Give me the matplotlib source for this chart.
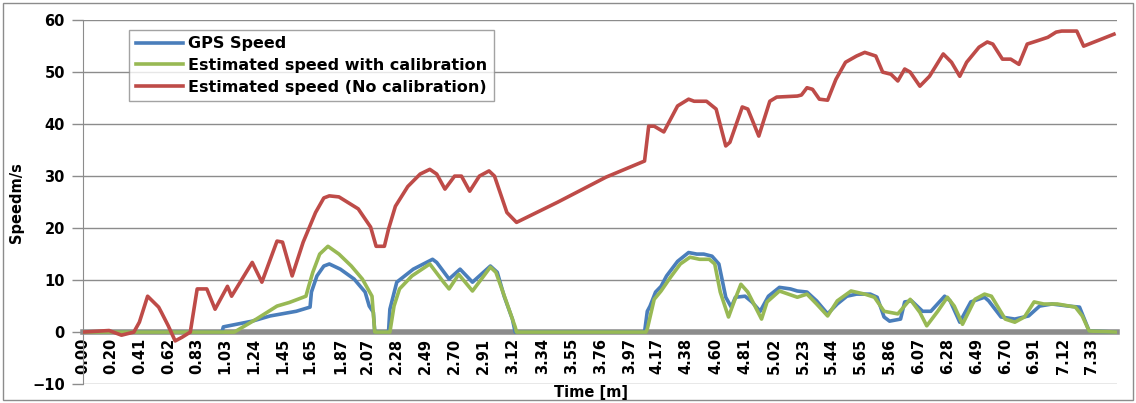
import numpy as np
import matplotlib
matplotlib.use("Agg")
import matplotlib.pyplot as plt
from matplotlib.patches import Rectangle

# time [min] / speed [m/s]
red_t = [0.00, 0.19, 0.28, 0.37, 0.41, 0.47, 0.55, 0.57, 0.62, 0.67, 0.72, 0.78,
         0.83, 0.90, 0.96, 1.05, 1.08, 1.23, 1.30, 1.41, 1.45, 1.52, 1.60, 1.69,
         1.75, 1.79, 1.86, 2.00, 2.09, 2.13, 2.19, 2.22, 2.27, 2.36, 2.45, 2.52,
         2.57, 2.63, 2.70, 2.75, 2.81, 2.88, 2.95, 2.99, 3.08, 3.15, 3.45, 3.80,
         4.08, 4.11, 4.15, 4.22, 4.32, 4.40, 4.44, 4.53, 4.60, 4.67, 4.70, 4.79,
         4.83, 4.91, 4.99, 5.04, 5.19, 5.22, 5.26, 5.30, 5.35, 5.41, 5.47, 5.54,
         5.62, 5.68, 5.76, 5.81, 5.87, 5.92, 5.97, 6.01, 6.08, 6.15, 6.25, 6.31,
         6.37, 6.42, 6.51, 6.57, 6.61, 6.68, 6.74, 6.80, 6.86, 6.93, 7.01, 7.07,
         7.11, 7.22, 7.27, 7.49]
red_v = [0.0, 0.3, -0.6, 0.0, 1.9, 6.9, 4.8, 3.8, 1.2, -1.7, -1.0, 0.0,
         8.3, 8.3, 4.4, 8.8, 6.9, 13.4, 9.6, 17.5, 17.3, 10.8, 17.3, 23.0,
         25.8, 26.2, 26.0, 23.7, 20.2, 16.5, 16.5, 19.8, 24.2, 28.0, 30.4, 31.3,
         30.4, 27.5, 30.0, 30.0, 27.1, 30.0, 31.0, 30.0, 23.0, 21.1, 25.0, 29.8,
         32.9, 39.6, 39.6, 38.5, 43.5, 44.8, 44.4, 44.4, 42.9, 35.8, 36.5, 43.3,
         42.9, 37.7, 44.4, 45.2, 45.4, 45.6, 47.0, 46.7, 44.8, 44.6, 48.6, 51.9,
         53.1, 53.8, 53.1, 50.0, 49.6, 48.3, 50.6, 50.0, 47.3, 49.2, 53.5, 51.9,
         49.2, 51.9, 54.8, 55.8, 55.4, 52.5, 52.5, 51.5, 55.4, 56.0, 56.7, 57.7,
         57.9, 57.9, 55.0, 57.3]

gps_t = [0.00, 1.01, 1.02, 1.23, 1.36, 1.55, 1.65, 1.66, 1.70, 1.75, 1.79, 1.87,
         1.97, 2.05, 2.08, 2.11, 2.12, 2.22, 2.23, 2.28, 2.40, 2.54, 2.57, 2.66,
         2.74, 2.83, 2.96, 3.01, 3.06, 3.12, 3.14, 4.08, 4.10, 4.12, 4.16, 4.20,
         4.24, 4.32, 4.40, 4.46, 4.51, 4.57, 4.62, 4.67, 4.71, 4.74, 4.81, 4.86,
         4.92, 4.98, 5.06, 5.14, 5.19, 5.26, 5.33, 5.41, 5.48, 5.55, 5.62, 5.72,
         5.77, 5.82, 5.86, 5.94, 5.97, 6.02, 6.10, 6.16, 6.26, 6.30, 6.37, 6.45,
         6.55, 6.58, 6.67, 6.77, 6.87, 6.95, 7.04, 7.16, 7.24, 7.31, 7.51]
gps_v = [0.0, 0.0, 1.0, 2.1, 3.1, 4.0, 4.8, 7.7, 10.8, 12.7, 13.1, 12.1,
         10.2, 7.7, 5.0, 3.8, 0.0, 0.0, 4.4, 9.6, 12.1, 14.0, 13.4, 10.2,
         12.1, 9.6, 12.7, 11.5, 6.9, 2.5, 0.0, 0.0, 4.0, 5.0, 7.7, 8.8,
         10.8, 13.6, 15.3, 15.0, 15.0, 14.6, 13.1, 6.7, 4.8, 6.7, 6.9, 5.8,
         4.0, 6.9, 8.6, 8.3, 7.9, 7.7, 6.0, 3.5, 5.4, 6.9, 7.3, 7.3,
         6.7, 2.9, 2.1, 2.5, 5.8, 6.0, 4.0, 4.0, 6.9, 6.0, 1.9, 5.8,
         6.7, 6.0, 2.9, 2.5, 3.1, 5.0, 5.4, 5.0, 4.8, 0.2, 0.0]

cal_t = [0.00, 1.10, 1.26, 1.41, 1.50, 1.62, 1.64, 1.67, 1.72, 1.78, 1.86, 1.95,
         2.03, 2.10, 2.12, 2.23, 2.26, 2.30, 2.39, 2.52, 2.62, 2.66, 2.73, 2.83,
         2.96, 3.00, 3.07, 3.14, 3.15, 4.09, 4.10, 4.15, 4.20, 4.27, 4.34, 4.41,
         4.48, 4.55, 4.59, 4.63, 4.69, 4.73, 4.78, 4.83, 4.93, 4.97, 5.06, 5.19,
         5.26, 5.33, 5.41, 5.48, 5.58, 5.68, 5.75, 5.82, 5.92, 6.01, 6.08, 6.13,
         6.21, 6.28, 6.33, 6.39, 6.48, 6.55, 6.60, 6.70, 6.77, 6.84, 6.91, 6.98,
         7.08, 7.21, 7.26, 7.31, 7.51]
cal_v = [0.0, 0.0, 2.5, 5.0, 5.7, 6.9, 8.8, 11.5, 15.0, 16.5, 15.0, 12.7,
         10.2, 6.9, 0.0, 0.0, 5.0, 8.3, 10.8, 13.1, 9.6, 8.3, 11.1, 7.9,
         12.5, 11.5, 6.3, 1.0, 0.0, 0.0, 0.6, 6.3, 7.9, 10.6, 13.1, 14.4,
         14.0, 14.0, 13.1, 7.7, 2.9, 5.8, 9.2, 7.7, 2.5, 5.8, 7.9, 6.7,
         7.3, 5.4, 3.1, 6.0, 7.9, 7.3, 6.7, 4.0, 3.5, 6.3, 3.8, 1.2,
         4.0, 6.7, 5.0, 1.5, 6.3, 7.3, 6.9, 2.5, 1.9, 2.9, 5.8, 5.4,
         5.4, 4.8, 3.1, 0.2, 0.0]

tick_labels = ["0.00", "0.20", "0.41", "0.62", "0.83", "1.03", "1.24", "1.45",
               "1.65", "1.87", "2.07", "2.28", "2.49", "2.70", "2.91", "3.12",
               "3.34", "3.55", "3.76", "3.97", "4.17", "4.38", "4.60", "4.81",
               "5.02", "5.23", "5.44", "5.65", "5.86", "6.07", "6.28", "6.49",
               "6.70", "6.91", "7.12", "7.33"]

fig = plt.figure(figsize=(11.36, 4.03), dpi=100)
ax = fig.add_axes([0.073, 0.047, 0.910, 0.903])

# spine position first: it resets the ticks
ax.spines["bottom"].set_position(("data", 0))
ax.spines["bottom"].set_color("#8c8c8c")
ax.spines["bottom"].set_linewidth(4)
ax.spines["bottom"].set_zorder(2)
ax.spines["top"].set_visible(False)
ax.spines["right"].set_visible(False)
ax.spines["left"].set_color("#8c8c8c")

ax.plot(gps_t, gps_v, color="#4a7ebb", lw=2.6, label="GPS Speed", zorder=3)
ax.plot(cal_t, cal_v, color="#98b954", lw=2.6,
        label="Estimated speed with calibration", zorder=4)
ax.plot(red_t, red_v, color="#be4b48", lw=2.6,
        label="Estimated speed (No calibration)", zorder=5)

ax.set_xlim(0, 7.51)
ax.set_ylim(-10, 60)
ax.set_yticks(range(-10, 61, 10))
ax.yaxis.grid(True, color="#8c8c8c", lw=1)
ax.set_axisbelow(True)

ax.set_xticks([float(s) for s in tick_labels])
ax.set_xticklabels(tick_labels, rotation=90, fontweight="bold", fontsize=10.5,
                   family=["Liberation Sans Narrow", "DejaVu Sans"])
ax.tick_params(axis="x", length=0, pad=4)
ax.tick_params(axis="y", length=8, width=1, color="#8c8c8c", labelsize=10.5, pad=5)
for lab in ax.get_yticklabels():
    lab.set_fontweight("bold")

ax.set_ylabel("Speedm/s", fontweight="bold", fontsize=10.5, labelpad=6)
fig.text(0.52, 0.027, "Time [m]", ha="center", va="center",
         fontweight="bold", fontsize=10.5)

leg = ax.legend(loc="upper left", bbox_to_anchor=(0.037, 0.995),
                prop={"weight": "bold", "size": 11.5}, frameon=True, fancybox=False,
                handlelength=3.0, handletextpad=0.3, borderpad=0.4, labelspacing=0.42)
leg.get_frame().set_edgecolor("#8c8c8c")
leg.get_frame().set_linewidth(1)

fig.patches.append(Rectangle((0.003, 0.007), 0.994, 0.986, transform=fig.transFigure,
                             fill=False, edgecolor="#8c8c8c", lw=1))

fig.savefig("out.png", dpi=100)
